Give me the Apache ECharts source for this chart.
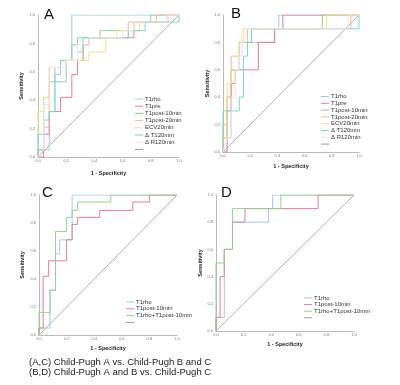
<!DOCTYPE html>
<html>
<head>
<meta charset="utf-8">
<script src="https://cdn.jsdelivr.net/npm/echarts@6/dist/echarts.min.js"></script>
<style>
  html, body { margin: 0; padding: 0; background: #fff; }
  #chart { width: 400px; height: 385px; }
</style>
</head>
<body>
<div id="chart"></div>
<script>
// ---- data (1 - specificity / sensitivity pairs) ----
const ticks = [0, 0.2, 0.4, 0.6, 0.8, 1.0];

// Panel A
const aT1rhoX = [0, 0, 0.08, 0.08, 0.12, 0.12, 0.16, 0.16, 0.24, 0.24, 1];
const aT1rhoY = [0, 0.05, 0.05, 0.32, 0.32, 0.58, 0.58, 0.68, 0.68, 1, 1];
const aT1preX = [0, 0.04, 0.04, 0.08, 0.08, 0.16, 0.16, 0.24, 0.24, 0.28, 0.28, 0.32, 0.32, 0.36, 0.36, 0.68, 0.68, 0.72, 0.72, 0.92, 0.92, 1];
const aT1preY = [0, 0, 0.16, 0.16, 0.32, 0.32, 0.42, 0.42, 0.58, 0.58, 0.68, 0.68, 0.79, 0.79, 0.84, 0.84, 0.89, 0.89, 0.95, 0.95, 1, 1];
const aPost10X = [0, 0, 0.04, 0.04, 0.08, 0.08, 0.2, 0.2, 0.24, 0.24, 0.28, 0.28, 0.44, 0.44, 0.68, 0.68, 0.8, 0.8, 1];
const aPost10Y = [0, 0.05, 0.05, 0.42, 0.42, 0.53, 0.53, 0.68, 0.68, 0.79, 0.79, 0.84, 0.84, 0.89, 0.89, 0.95, 0.95, 1, 1];
const aPost20X = [0, 0.04, 0.04, 0.08, 0.08, 0.2, 0.2, 0.32, 0.32, 0.36, 0.36, 0.64, 0.64, 0.84, 0.84, 1];
const aPost20Y = [0, 0.05, 0.21, 0.21, 0.63, 0.63, 0.68, 0.68, 0.79, 0.79, 0.84, 0.84, 0.95, 0.95, 1, 1];
const aEcvX = [0, 0, 0.04, 0.04, 0.08, 0.08, 0.2, 0.2, 0.36, 0.36, 0.48, 0.48, 0.56, 0.56, 0.72, 0.72, 0.92, 0.92, 1];
const aEcvY = [0, 0.32, 0.32, 0.42, 0.42, 0.63, 0.63, 0.68, 0.68, 0.74, 0.74, 0.84, 0.84, 0.89, 0.89, 0.95, 0.95, 1, 1];
const aDT120X = [0, 0, 0.04, 0.04, 0.08, 0.08, 0.12, 0.12, 0.16, 0.16, 0.28, 0.28, 0.32, 0.32, 0.64, 0.64, 0.76, 0.76, 1, 1];
const aDT120Y = [0, 0.16, 0.16, 0.26, 0.26, 0.32, 0.32, 0.63, 0.63, 0.68, 0.68, 0.74, 0.74, 0.84, 0.84, 0.89, 0.89, 0.95, 0.95, 1];
const aDR120X = [0, 0.04, 0.04, 0.08, 0.08, 0.2, 0.2, 0.28, 0.28, 0.36, 0.36, 0.6, 0.6, 0.68, 0.68, 0.92, 0.92, 1];
const aDR120Y = [0, 0.05, 0.37, 0.37, 0.63, 0.63, 0.68, 0.68, 0.79, 0.79, 0.84, 0.84, 0.89, 0.89, 0.95, 0.95, 1, 1];

// Panel B
const bT1rhoX = [0, 0, 0.06, 0.06, 0.12, 0.12, 0.38, 0.38, 0.41, 0.41, 1];
const bT1rhoY = [0, 0.1, 0.1, 0.6, 0.6, 0.8, 0.8, 0.9, 0.9, 1, 1];
const bT1preX = [0, 0.03, 0.03, 0.06, 0.06, 0.09, 0.09, 0.26, 0.26, 0.38, 0.38, 0.44, 0.44, 1];
const bT1preY = [0, 0, 0.3, 0.3, 0.5, 0.5, 0.6, 0.6, 0.8, 0.8, 0.9, 0.9, 1, 1];
const bPost10X = [0, 0, 0.03, 0.03, 0.06, 0.06, 0.12, 0.12, 0.21, 0.21, 0.73, 0.73, 1];
const bPost10Y = [0, 0.1, 0.1, 0.4, 0.4, 0.6, 0.6, 0.8, 0.8, 0.9, 0.9, 1, 1];
const bPost20X = [0, 0, 0.03, 0.03, 0.06, 0.06, 0.12, 0.12, 0.18, 0.18, 0.94, 0.94, 1];
const bPost20Y = [0, 0.2, 0.2, 0.4, 0.4, 0.7, 0.7, 0.8, 0.8, 0.9, 0.9, 1, 1];
const bEcvX = [0, 0, 0.03, 0.03, 0.06, 0.06, 0.12, 0.12, 0.15, 0.15, 0.76, 0.76, 1];
const bEcvY = [0, 0.1, 0.1, 0.5, 0.5, 0.6, 0.6, 0.8, 0.8, 0.9, 0.9, 1, 1];
const bDT120X = [0, 0, 0.12, 0.12, 0.15, 0.15, 0.18, 0.18, 0.21, 0.21, 1, 1];
const bDT120Y = [0, 0.3, 0.3, 0.4, 0.4, 0.7, 0.7, 0.8, 0.8, 0.9, 0.9, 1];
const bDR120X = [0, 0.03, 0.06, 0.06, 0.09, 0.09, 0.12, 0.12, 0.14, 0.14, 0.92, 0.92, 1];
const bDR120Y = [0, 0.1, 0.1, 0.4, 0.4, 0.6, 0.6, 0.7, 0.7, 0.9, 0.9, 1, 1];

// Panel C
const cT1rhoX = [0, 0, 0.08, 0.08, 0.12, 0.12, 0.15, 0.15, 0.24, 0.24, 1];
const cT1rhoY = [0, 0.05, 0.05, 0.32, 0.32, 0.58, 0.58, 0.68, 0.68, 1, 1];
const cPost10X = [0, 0, 0.03, 0.03, 0.07, 0.07, 0.2, 0.2, 0.24, 0.24, 0.28, 0.28, 0.44, 0.44, 0.68, 0.68, 0.8, 0.8, 1];
const cPost10Y = [0, 0.05, 0.05, 0.42, 0.42, 0.53, 0.53, 0.68, 0.68, 0.79, 0.79, 0.84, 0.84, 0.89, 0.89, 0.95, 0.95, 1, 1];
const cComboX = [0, 0, 0.08, 0.08, 0.12, 0.12, 0.2, 0.2, 0.24, 0.24, 0.28, 0.28, 0.52, 0.52, 1];
const cComboY = [0, 0.16, 0.16, 0.32, 0.32, 0.74, 0.74, 0.84, 0.84, 0.89, 0.89, 0.95, 0.95, 1, 1];

// Panel D
const dT1rhoX = [0, 0, 0.06, 0.06, 0.12, 0.12, 0.38, 0.38, 0.41, 0.41, 1];
const dT1rhoY = [0, 0.1, 0.1, 0.6, 0.6, 0.8, 0.8, 0.9, 0.9, 1, 1];
const dPost10X = [0, 0, 0.03, 0.03, 0.06, 0.06, 0.12, 0.12, 0.21, 0.21, 0.74, 0.74, 1];
const dPost10Y = [0, 0.1, 0.1, 0.4, 0.4, 0.6, 0.6, 0.8, 0.8, 0.9, 0.9, 1, 1];
const dComboX = [0, 0, 0.06, 0.06, 0.12, 0.12, 0.47, 0.47, 1];
const dComboY = [0, 0.5, 0.5, 0.6, 0.6, 0.9, 0.9, 1, 1];

const refX = [0, 1];
const refY = [0, 1];

const namesAB = ['T1rho', 'T1pre', 'T1post-10min', 'T1post-20min', 'ECV20min', 'Δ T120min', 'Δ R120min'];
const namesCD = ['T1rho', 'T1post-10min', 'T1rho+T1post-10min'];
const colorsAB = ['#a3c8ec', '#e47d98', '#93cf93', '#f6b896', '#f1e28a', '#72dccb', '#f9dde6'];
const colorsCD = ['#a3c8ec', '#e47d98', '#93cf93'];
const refColor = '#999999';

const panels = [
  { names: namesAB, colors: colorsAB,
    xs: [aT1rhoX, aT1preX, aPost10X, aPost20X, aEcvX, aDT120X, aDR120X],
    ys: [aT1rhoY, aT1preY, aPost10Y, aPost20Y, aEcvY, aDT120Y, aDR120Y] },
  { names: namesAB, colors: colorsAB,
    xs: [bT1rhoX, bT1preX, bPost10X, bPost20X, bEcvX, bDT120X, bDR120X],
    ys: [bT1rhoY, bT1preY, bPost10Y, bPost20Y, bEcvY, bDT120Y, bDR120Y] },
  { names: namesCD, colors: colorsCD,
    xs: [cT1rhoX, cPost10X, cComboX], ys: [cT1rhoY, cPost10Y, cComboY] },
  { names: namesCD, colors: colorsCD,
    xs: [dT1rhoX, dPost10X, dComboX], ys: [dT1rhoY, dPost10Y, dComboY] }
];

// ---- layout ----
const grids = [
  { left: 38, top: 15, width: 141, height: 142 },
  { left: 223, top: 15, width: 136, height: 137 },
  { left: 39, top: 195, width: 138, height: 140 },
  { left: 216, top: 195, width: 138, height: 136 }
];
const letters = [
  { text: 'A', left: 44, top: 7 },
  { text: 'B', left: 231, top: 6 },
  { text: 'C', left: 42, top: 185 },
  { text: 'D', left: 221, top: 185 }
];
const legendPos = [
  { left: 135, top: 96, gap: 1.2 },
  { left: 321, top: 93.5, gap: 0.8 },
  { left: 126, top: 299, gap: 0.8 },
  { left: 304, top: 295, gap: 0.6 }
];
const yNameGap = [14, 12, 14, 11];
const xNameGap = [13, 11, 10, 10];

const chart = echarts.init(document.getElementById('chart'), null, { renderer: 'canvas' });

const series = [];
panels.forEach((p, i) => {
  p.names.forEach((name, k) => {
    series.push({
      name: name,
      type: 'line',
      xAxisIndex: i,
      yAxisIndex: i,
      showSymbol: false,
      symbol: 'none',
      color: p.colors[k],
      lineStyle: { width: 1, color: p.colors[k] },
      data: p.xs[k].map((x, j) => [x, p.ys[k][j]]),
      z: 3
    });
  });
  series.push({
    name: 'Reference',
    type: 'line',
    xAxisIndex: i,
    yAxisIndex: i,
    showSymbol: false,
    symbol: 'none',
    color: refColor,
    lineStyle: { width: 0.8, color: refColor },
    data: refX.map((x, j) => [x, refY[j]]),
    z: 2
  });
});

const axisLabel = { fontSize: 4, color: '#777', formatter: v => v.toFixed(1) };
const axisLine = { show: true, lineStyle: { color: '#aaa', width: 0.8 } };
const nameStyle = { fontSize: 5.5, fontWeight: 'bold', color: '#222', fontFamily: 'Liberation Sans' };

const option = {
  backgroundColor: '#fff',
  animation: false,
  textStyle: { fontFamily: 'Liberation Sans' },
  title: letters.map(l => ({
    text: l.text, left: l.left, top: l.top, padding: 0,
    textStyle: { fontSize: 15, fontWeight: 'normal', color: '#111', fontFamily: 'Liberation Sans' }
  })).concat([{
    text: '(A,C) Child-Pugh A vs. Child-Pugh B and C\n(B,D) Child-Pugh A and B vs. Child-Pugh C',
    left: 29, top: 358, padding: 0,
    textStyle: { fontSize: 9.5, fontWeight: 'normal', color: '#222', lineHeight: 9.5, fontFamily: 'Liberation Sans' }
  }]),
  grid: grids,
  xAxis: grids.map((g, i) => ({
    type: 'value', gridIndex: i, min: 0, max: 1, interval: 0.2,
    name: '1 - Specificity', nameLocation: 'middle', nameGap: xNameGap[i], nameTextStyle: nameStyle,
    axisLine: axisLine, axisTick: { show: false }, splitLine: { show: false },
    axisLabel: Object.assign({ margin: 2 }, axisLabel)
  })),
  yAxis: grids.map((g, i) => ({
    type: 'value', gridIndex: i, min: 0, max: 1, interval: 0.2,
    name: 'Sensitivity', nameLocation: 'middle', nameGap: yNameGap[i], nameTextStyle: nameStyle,
    axisLine: axisLine, axisTick: { show: false }, splitLine: { show: false },
    axisLabel: Object.assign({ margin: 3 }, axisLabel)
  })),
  legend: panels.map((p, i) => ({
    orient: 'vertical',
    left: legendPos[i].left,
    top: legendPos[i].top,
    padding: 0,
    itemGap: legendPos[i].gap,
    itemWidth: 8,
    itemHeight: 1,
    icon: 'rect',
    selectedMode: false,
    formatter: n => (n === 'Reference' ? ' ' : n),
    textStyle: { fontSize: 6, color: '#333', lineHeight: 6, padding: [0, 0, 0, -3] },
    data: p.names.map((n, k) => ({ name: n, itemStyle: { color: p.colors[k] } }))
      .concat([{ name: 'Reference', itemStyle: { color: refColor } }])
  })),
  series: series
};

chart.setOption(option);
</script>
</body>
</html>
